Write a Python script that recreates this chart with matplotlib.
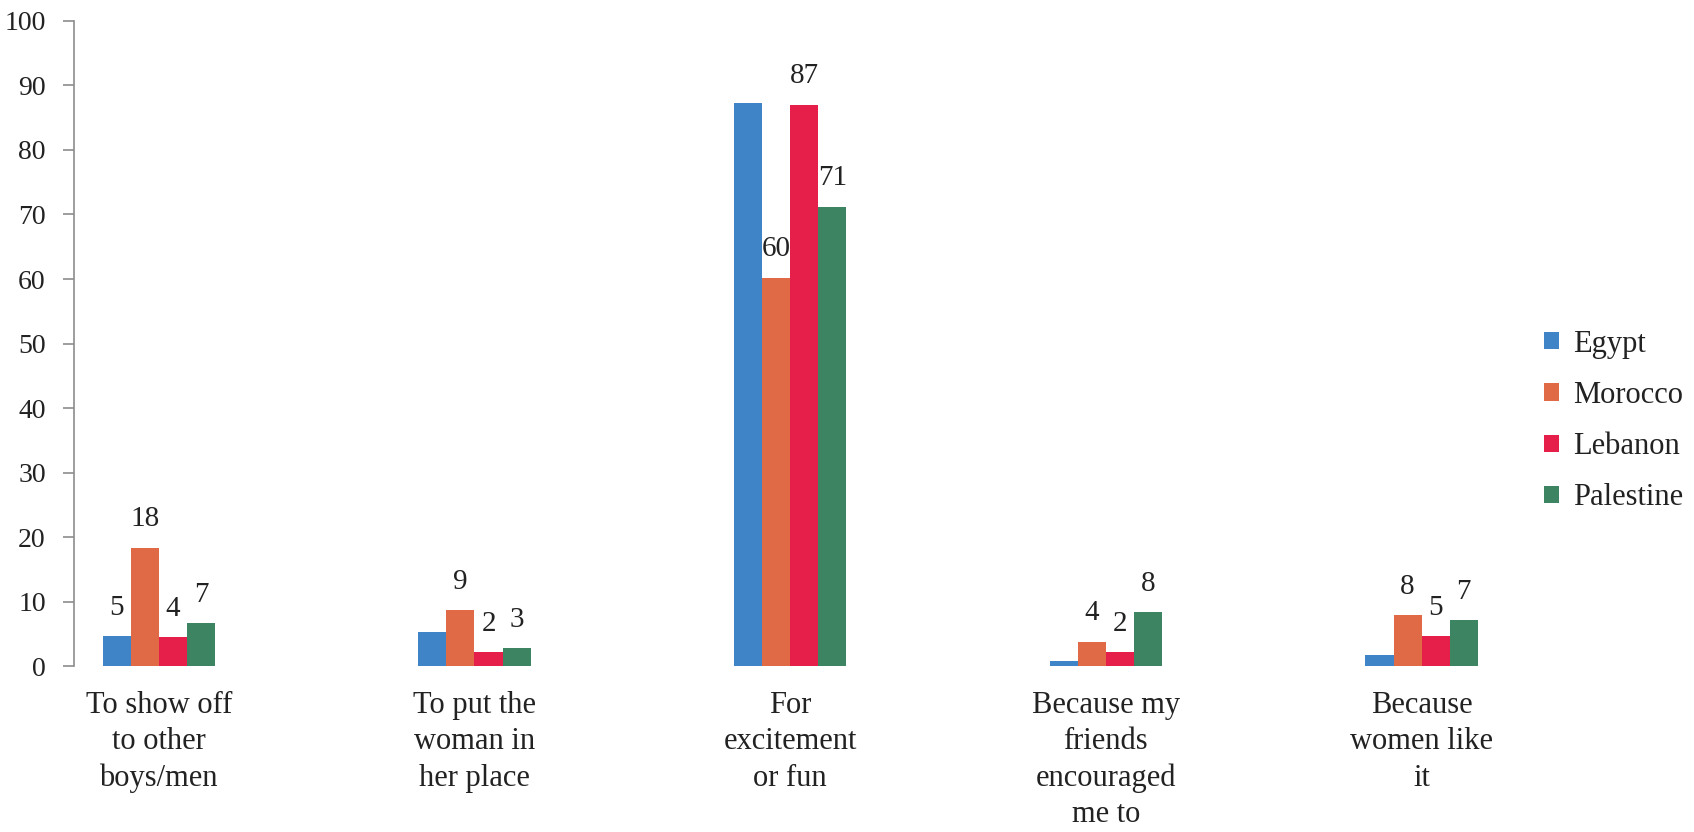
import matplotlib.pyplot as plt
import numpy as np

plt.rcParams['font.family'] = ['Liberation Serif', 'DejaVu Serif']

categories = ['To show off\nto other\nboys/men', 'To put the\nwoman in\nher place',
              'For\nexcitement\nor fun', 'Because my\nfriends\nencouraged\nme to',
              'Because\nwomen like\nit']
countries = ['Egypt', 'Morocco', 'Lebanon', 'Palestine']
colors = ['#3F84C6', '#E06946', '#E61E4A', '#3D8462']

egypt = [4.7, 5.3, 87.3, 0.8, 1.7]
morocco = [18.4, 8.7, 60.2, 3.8, 7.9]
lebanon = [4.5, 2.2, 87.0, 2.2, 4.7]
palestine = [6.7, 2.8, 71.2, 8.4, 7.2]

# labels shown above bars (None = no label in the original)
egypt_lbl = ['5', None, None, None, None]
morocco_lbl = ['18', '9', '60', '4', '8']
lebanon_lbl = ['4', '2', '87', '2', '5']
palestine_lbl = ['7', '3', '71', '8', '7']

series = [egypt, morocco, lebanon, palestine]
labels = [egypt_lbl, morocco_lbl, lebanon_lbl, palestine_lbl]

fig = plt.figure(figsize=(16.94, 8.32), dpi=100)
ax = fig.add_axes([0.0434, 0.199, 0.889, 0.776])

x = np.arange(len(categories))
w = 0.089
for i, (vals, lbls) in enumerate(zip(series, labels)):
    pos = x + (i - 1.5) * w
    ax.bar(pos, vals, width=w, color=colors[i], label=countries[i], zorder=3)
    for p, v, t in zip(pos, vals, lbls):
        if t is not None:
            ax.text(p, v + 4.4, t, ha='center', va='center', fontsize=21, color='#222222')

ax.set_xlim(-0.27, 4.5)
ax.set_ylim(0, 100)
ax.set_yticks(range(0, 101, 10))
ax.set_xticks(x)
ax.set_xticklabels(categories, fontsize=22, color='#222222', linespacing=1.32)
ax.tick_params(axis='x', length=0, pad=18)
ax.tick_params(axis='y', length=8, width=1.2, color='#8c8c8c', labelsize=20,
               labelcolor='#222222', pad=12)
for s in ['top', 'right', 'bottom']:
    ax.spines[s].set_visible(False)
ax.spines['left'].set_color('#8c8c8c')
ax.spines['left'].set_linewidth(1.2)

fig.legend(loc='center left', bbox_to_anchor=(0.895, 0.494), frameon=False,
           fontsize=22, handlelength=0.5, handleheight=0.5, handletextpad=0.45,
           labelspacing=0.73, labelcolor='#222222')

fig.savefig('out.png', dpi=100)
